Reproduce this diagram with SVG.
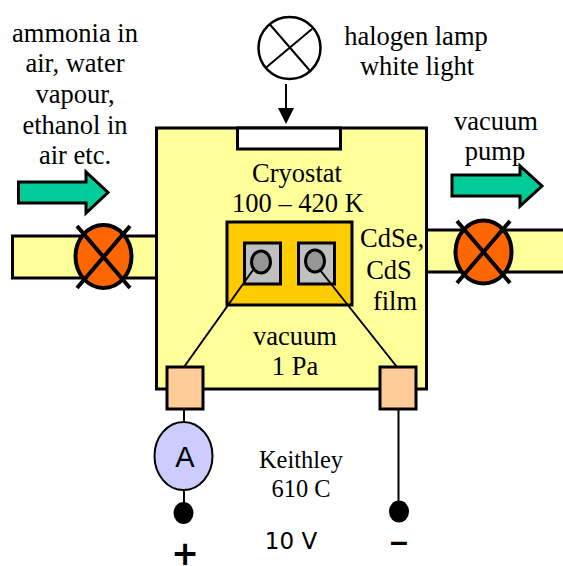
<svg xmlns="http://www.w3.org/2000/svg" width="563" height="566" viewBox="0 0 563 566">
<defs><style>
.t{font-family:"Liberation Serif","Times New Roman",serif;font-size:26.500px;fill:#000;text-anchor:middle}
.k{font-family:"Liberation Serif","Times New Roman",serif;font-size:24.400px;fill:#000;text-anchor:middle}
.s{font-family:"Liberation Sans",Arial,sans-serif;fill:#000;text-anchor:middle}
.b{font-family:"DejaVu Sans",Verdana,sans-serif;fill:#000;text-anchor:middle}
.o{stroke:#000;stroke-width:3}
.l{stroke:#000;stroke-width:2;fill:none}
.vx{stroke:#000;stroke-width:4;fill:none}
.y{fill:#ffff99}.g{fill:#00cc99}.v{fill:#ff6600}.c{fill:#ffcc99}.q{fill:#c0c0c0}.d{fill:#969696}
</style></defs>
<g id="pipe-left"><rect class="o y" x="12.500" y="236" width="145" height="42"/></g>
<g id="pipe-right"><rect class="o y" x="426" y="230" width="140" height="42"/></g>
<g id="cryostat"><rect class="o y" x="156.500" y="128" width="270" height="261"/>
<rect class="o" fill="#fff" x="237.500" y="128" width="103" height="21"/>
<text class="t" x="297" y="182">Cryostat</text><text class="t" x="298" y="212">100 – 420 K</text>
<text class="t" x="295" y="345">vacuum</text><text class="t" x="295" y="375">1 Pa</text></g>
<g id="film"><rect class="o" fill="#ffcc00" x="227" y="222" width="125" height="83"/></g>
<g id="contact-left"><rect class="o q" x="244.500" y="243" width="36" height="41"/><ellipse class="o d" cx="261" cy="262" rx="9.500" ry="11"/></g>
<g id="contact-right"><rect class="o q" x="298.500" y="243" width="36" height="41"/><ellipse class="o d" cx="315" cy="261" rx="9.500" ry="11"/></g>
<g id="connectors">
<path class="l" d="M253 270L184 367M320 270L397 367M184 409V423M184 489V505M398.500 409V501"/>
<path class="l" d="M286 84V112"/><path d="M278 108H294L286 124Z"/>
</g>
<g id="lamp"><circle cx="289.500" cy="48" r="31" fill="#fff" stroke="#000" stroke-width="2.500"/><path class="l" d="M269.500 24L311 72M265.500 68L312 29"/></g>
<g id="label-lamp"><text class="t" x="416" y="45">halogen lamp</text><text class="t" x="417" y="75">white light</text></g>
<g id="label-gas"><text class="t" x="75" y="41.500">ammonia in</text><text class="t" x="75" y="72">air, water</text><text class="t" x="75" y="102.500">vapour,</text><text class="t" x="75" y="133.500">ethanol in</text><text class="t" x="75" y="164">air etc.</text></g>
<g id="label-pump"><text class="t" x="496" y="130">vacuum</text><text class="t" x="495" y="160">pump</text></g>
<g id="label-film"><text class="t" x="392" y="247">CdSe,</text><text class="t" x="389" y="279">CdS</text><text class="t" x="395" y="310">film</text></g>
<g id="arrow-in"><path class="o g" d="M18.500 182H86V172L108 192.500L86 213V203H18.500Z"/></g>
<g id="arrow-out"><path class="o g" d="M452 175H520V166L542 186L520 206V196H452Z"/></g>
<g id="valve-left"><ellipse class="v" stroke="#000" stroke-width="4" cx="103.500" cy="256.500" rx="28" ry="31.500"/><path class="vx" d="M77 226L130 288M130 226L77 288"/></g>
<g id="valve-right"><ellipse class="v" stroke="#000" stroke-width="4" cx="483.500" cy="252" rx="28" ry="31.500"/><path class="vx" d="M457 221L510 283M510 221L457 283"/></g>
<g id="terminal-left"><rect class="o c" x="167" y="367" width="36" height="42"/></g>
<g id="terminal-right"><rect class="o c" x="380" y="367" width="36" height="42"/></g>
<g id="ammeter"><ellipse cx="183.500" cy="456" rx="29" ry="34" fill="#ccccff" stroke="#000" stroke-width="2"/><text class="s" x="185" y="467" font-size="29">A</text></g>
<g id="dot-plus"><ellipse cx="183.500" cy="513" rx="10" ry="11"/></g>
<g id="dot-minus"><ellipse cx="399" cy="511.500" rx="10" ry="11"/></g>
<g id="label-instr"><text class="k" x="301" y="468">Keithley</text><text class="k" x="301" y="497">610 C</text></g>
<g id="label-volt"><text class="b" x="291" y="549" font-size="23">10 V</text></g>
<g id="sign-plus"><text class="b" x="185" y="565" font-size="33" font-weight="bold">+</text></g>
<g id="sign-minus"><text class="s" x="399" y="552" font-size="32" font-weight="bold">–</text></g>
</svg>
